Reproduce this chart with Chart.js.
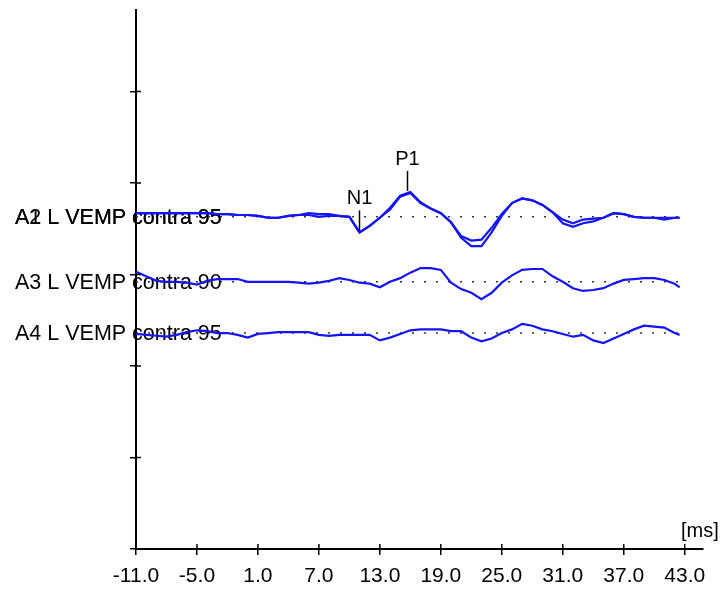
<!DOCTYPE html>
<html>
<head>
<meta charset="utf-8">
<script src="https://cdn.jsdelivr.net/npm/chart.js@4.4.0/dist/chart.umd.min.js"></script>
<style>
html, body { margin: 0; padding: 0; background: #fff; }
#wrap { width: 723px; height: 592px; }
</style>
</head>
<body>
<div id="wrap"><canvas id="vemp"></canvas></div>
<script>
// time axis in ms
const times = [-11, -10, -9, -8, -7, -6, -5, -4, -3, -2, -1, 0, 1, 2, 3, 4, 5, 6, 7, 8,
    9, 10, 11, 12, 13, 14, 15, 16, 17, 18, 19, 20, 21, 22, 23, 24, 25, 26, 27, 28,
    29, 30, 31, 32, 33, 34, 35, 36, 37, 38, 39, 40, 41, 42, 42.5];

const a1 = [3.67, 3.67, 3.67, 3.67, 3.67, 3.67, 3.67, 3.67, 3.66, 3.66, 3.65, 3.65, 3.64, 3.62, 3.62, 3.64, 3.65, 3.67, 3.66, 3.66,
    3.64, 3.63, 3.46, 3.53, 3.62, 3.73, 3.86, 3.90, 3.79, 3.72, 3.67, 3.57, 3.42, 3.37, 3.38, 3.51, 3.66, 3.78, 3.83, 3.81,
    3.76, 3.68, 3.60, 3.56, 3.60, 3.61, 3.62, 3.67, 3.66, 3.63, 3.62, 3.62, 3.62, 3.62, 3.62];
const a2 = [3.67, 3.67, 3.67, 3.67, 3.67, 3.67, 3.67, 3.67, 3.66, 3.66, 3.65, 3.65, 3.64, 3.62, 3.62, 3.64, 3.65, 3.65, 3.63, 3.64,
    3.64, 3.63, 3.46, 3.53, 3.62, 3.71, 3.85, 3.89, 3.78, 3.72, 3.67, 3.57, 3.40, 3.31, 3.31, 3.46, 3.64, 3.78, 3.83, 3.81,
    3.76, 3.68, 3.56, 3.52, 3.56, 3.58, 3.62, 3.67, 3.66, 3.63, 3.62, 3.62, 3.60, 3.62, 3.62];
const a3 = [3.03, 2.98, 2.93, 2.92, 2.92, 2.91, 2.89, 2.93, 2.95, 2.95, 2.95, 2.92, 2.92, 2.92, 2.92, 2.92, 2.91, 2.90, 2.91, 2.93,
    2.96, 2.94, 2.91, 2.90, 2.86, 2.92, 2.96, 3.02, 3.07, 3.07, 3.05, 2.91, 2.84, 2.80, 2.73, 2.80, 2.91, 2.99, 3.05, 3.06,
    3.06, 2.98, 2.92, 2.85, 2.82, 2.83, 2.85, 2.90, 2.94, 2.95, 2.96, 2.96, 2.94, 2.90, 2.86];
const a4 = [2.35, 2.34, 2.33, 2.32, 2.34, 2.37, 2.39, 2.38, 2.36, 2.36, 2.34, 2.31, 2.35, 2.36, 2.37, 2.37, 2.37, 2.37, 2.34, 2.33,
    2.34, 2.34, 2.34, 2.34, 2.28, 2.31, 2.35, 2.39, 2.40, 2.40, 2.40, 2.38, 2.38, 2.31, 2.27, 2.30, 2.36, 2.40, 2.46, 2.44,
    2.40, 2.38, 2.35, 2.32, 2.34, 2.28, 2.25, 2.30, 2.35, 2.40, 2.44, 2.43, 2.42, 2.36, 2.34];

const traceLabels = ['A1 L VEMP contra 95', 'A2 L VEMP contra 95', 'A3 L VEMP contra 90', 'A4 L VEMP contra 95'];
const labelLevels = [3.63, 3.63, 2.92, 2.36];
const baselines = [3.63, 2.92, 2.36];

const xTicks = [-11, -5, 1, 7, 13, 19, 25, 31, 37, 43];
const yTicks = [0, 1, 2, 3, 4, 5];

const peakNames = ['N1', 'P1'];
const peakTimes = [10.9, 15.7];
const peakValues = [3.46, 3.89];

const FONT = '"Liberation Sans", Arial, sans-serif';
const BLUE = 'rgb(20,20,245)';

function toPoints(vals) {
    return times.map((t, i) => ({ x: t, y: vals[i] }));
}

const traceSets = [a1, a2, a3, a4].map((vals, i) => ({
    label: traceLabels[i],
    data: toPoints(vals),
    borderColor: BLUE,
    borderWidth: 2.2,
    pointRadius: 0,
    tension: 0,
    order: 1,
}));

const baseSets = baselines.map((b) => ({
    data: [{ x: times[0], y: b }, { x: times[times.length - 1], y: b }],
    borderColor: '#333',
    borderWidth: 1.6,
    borderDash: [2, 10],
    pointRadius: 0,
    order: 2,
}));

// labels drawn under the traces
const traceText = {
    id: 'traceText',
    beforeDatasetsDraw(chart) {
        const { ctx, scales: { y } } = chart;
        ctx.save();
        ctx.font = '21.5px ' + FONT;
        ctx.fillStyle = '#000';
        ctx.textAlign = 'left';
        ctx.textBaseline = 'middle';
        traceLabels.forEach((t, i) => {
            ctx.fillText(t, 15, y.getPixelForValue(labelLevels[i]) + 1);
        });
        ctx.font = '20px ' + FONT;
        ctx.fillText('[ms]', 681, 531);
        ctx.restore();
    },
    afterDatasetsDraw(chart) {
        const { ctx, scales: { x, y } } = chart;
        ctx.save();
        ctx.strokeStyle = '#000';
        ctx.fillStyle = '#000';
        ctx.lineWidth = 1.5;
        ctx.font = '20px ' + FONT;
        ctx.textAlign = 'center';
        ctx.textBaseline = 'middle';
        peakNames.forEach((n, i) => {
            const px = Math.round(x.getPixelForValue(peakTimes[i])) + 0.5;
            const py = y.getPixelForValue(peakValues[i]);
            ctx.beginPath();
            ctx.moveTo(px, py - 2);
            ctx.lineTo(px, py - 22);
            ctx.stroke();
            ctx.fillText(n, px, py - 34);
        });
        ctx.restore();
    },
};

// ticks cross the axis lines
const innerTicks = {
    id: 'innerTicks',
    afterDraw(chart) {
        const { ctx, chartArea, scales: { x, y } } = chart;
        ctx.save();
        ctx.strokeStyle = '#000';
        ctx.lineWidth = 1.5;
        ctx.beginPath();
        x.ticks.forEach((t) => {
            const px = x.getPixelForValue(t.value);
            ctx.moveTo(px, chartArea.bottom);
            ctx.lineTo(px, chartArea.bottom - 5);
        });
        y.ticks.forEach((t) => {
            const py = y.getPixelForValue(t.value);
            ctx.moveTo(chartArea.left, py);
            ctx.lineTo(chartArea.left + 5, py);
        });
        ctx.stroke();
        ctx.restore();
    },
};

const axisGrid = {
    drawOnChartArea: false,
    drawTicks: true,
    tickLength: 6,
    color: '#000',
    lineWidth: 1.5,
};

new Chart(document.getElementById('vemp'), {
    type: 'line',
    data: { datasets: traceSets.concat(baseSets) },
    options: {
        responsive: true,
        maintainAspectRatio: false,
        animation: false,
        layout: { padding: { top: 10, right: 20, left: 0, bottom: 0 } },
        plugins: { legend: { display: false }, tooltip: { enabled: false } },
        scales: {
            x: {
                type: 'linear',
                min: -11,
                max: 44.8,
                afterBuildTicks: (axis) => { axis.ticks = xTicks.map((v) => ({ value: v })); },
                afterFit: (s) => { s.height = 43; },
                grid: axisGrid,
                border: { display: true, color: '#000', width: 2 },
                ticks: {
                    color: '#000',
                    font: { family: FONT, size: 21 },
                    padding: 9,
                    autoSkip: false,
                    maxRotation: 0,
                    callback: (v) => Number(v).toFixed(1),
                },
            },
            y: {
                type: 'linear',
                min: 0,
                max: 5.89,
                afterBuildTicks: (axis) => { axis.ticks = yTicks.map((v) => ({ value: v })); },
                afterFit: (s) => { s.width = 136; },
                grid: axisGrid,
                border: { display: true, color: '#000', width: 2 },
                ticks: { display: false },
            },
        },
    },
    plugins: [traceText, innerTicks],
});
</script>
</body>
</html>
